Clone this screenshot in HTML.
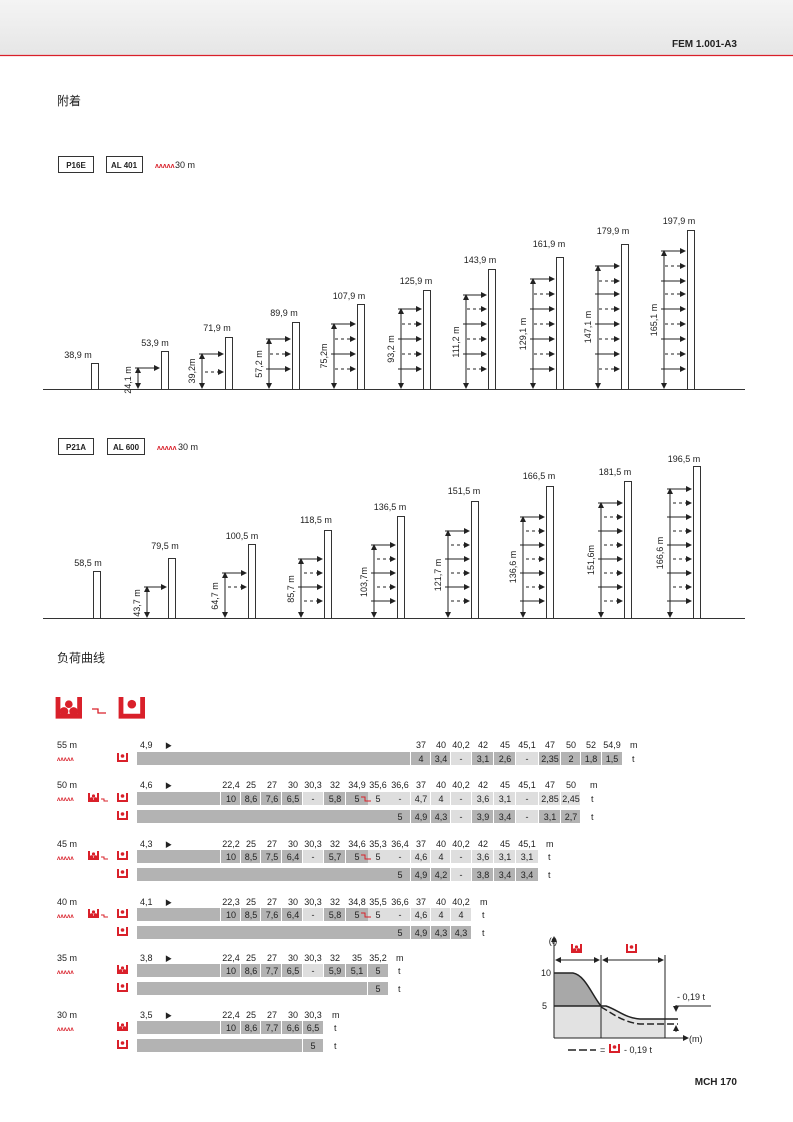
<!DOCTYPE html>
<html><head><meta charset="utf-8"><style>
body{margin:0;width:793px;height:1122px;background:#fff;overflow:hidden}
svg{display:block}
text{font-family:"Liberation Sans","Noto Sans CJK SC",sans-serif;fill:#222}
.s{font-size:9px}
.c{text-anchor:middle}
.dk{fill:#b3b3b3}.lt{fill:#dedede}
.ar path{marker-end:url(#ah)}
.vr path{marker-end:url(#ah);marker-start:url(#ah2)}
</style></head><body>
<svg width="793" height="1122" viewBox="0 0 793 1122">
<defs>
<linearGradient id="hg" x1="0" y1="0" x2="0" y2="1"><stop offset="0" stop-color="#f4f4f4"/><stop offset="1" stop-color="#e6e6e6"/></linearGradient>
<marker id="ah" markerWidth="6" markerHeight="6" refX="5" refY="3" orient="auto" markerUnits="userSpaceOnUse"><path d="M0,0L6,3L0,6z" fill="#222"/></marker>
<marker id="ah2" markerWidth="6" markerHeight="6" refX="5" refY="3" orient="auto-start-reverse" markerUnits="userSpaceOnUse"><path d="M0,0L6,3L0,6z" fill="#222"/></marker>
<g id="ic"><path d="M0,0v8h9v-8" fill="none" stroke="#d9202a" stroke-width="2"/><circle cx="4.5" cy="3" r="1.8" fill="#d9202a"/></g>
<g id="ic2"><path d="M0,0v8h9v-8" fill="none" stroke="#d9202a" stroke-width="2"/><circle cx="2.5" cy="6" r="1.8" fill="#d9202a"/><circle cx="6.5" cy="6" r="1.8" fill="#d9202a"/><circle cx="4.5" cy="3" r="1.6" fill="#d9202a"/></g>
</defs>
<rect x="0" y="0" width="793" height="55" fill="url(#hg)"/>
<line x1="0" y1="55.5" x2="793" y2="55.5" stroke="#d9202a" stroke-width="1.2"/>
<text x="737" y="47" style="font-size:10px;font-weight:bold;text-anchor:end">FEM 1.001-A3</text>
<text x="57" y="105" style="font-size:12px">附着</text>

<!-- chart 1 header -->
<rect x="58.5" y="156.5" width="35" height="16" fill="none" stroke="#333"/><text x="76" y="168" class="c" style="font-weight:bold;font-size:8px">P16E</text>
<rect x="106.5" y="156.5" width="36" height="16" fill="none" stroke="#333"/><text x="124" y="168" class="c" style="font-weight:bold;font-size:8px">AL 401</text>
<text x="155" y="168" style="font-size:7px;fill:#d9202a;font-weight:bold">ʌʌʌʌʌ</text><text x="175" y="168" class="s">30 m</text>
<line x1="43" y1="389.5" x2="745" y2="389.5" stroke="#333"/>
<g fill="#fff" stroke="#333">
<rect x="91.5" y="363.5" width="7" height="26"/><rect x="161.5" y="351.5" width="7" height="38"/><rect x="225.5" y="337.5" width="7" height="52"/><rect x="292.5" y="322.5" width="7" height="67"/><rect x="357.5" y="304.5" width="7" height="85"/><rect x="423.5" y="290.5" width="7" height="99"/><rect x="488.5" y="269.5" width="7" height="120"/><rect x="556.5" y="257.5" width="7" height="132"/><rect x="621.5" y="244.5" width="7" height="145"/><rect x="687.5" y="230.5" width="7" height="159"/>
</g>
<text x="78" y="358" class="s c">38,9 m</text><text x="155" y="346" class="s c">53,9 m</text><text x="217" y="331" class="s c">71,9 m</text><text x="284" y="316" class="s c">89,9 m</text><text x="349" y="299" class="s c">107,9 m</text><text x="416" y="284" class="s c">125,9 m</text><text x="480" y="263" class="s c">143,9 m</text><text x="549" y="247" class="s c">161,9 m</text><text x="613" y="234" class="s c">179,9 m</text><text x="679" y="224" class="s c">197,9 m</text>
<g stroke="#222" fill="none" class="vr">
<path d="M138,388V368"/><path d="M202,388V354"/><path d="M269,388V339"/><path d="M334,388V324"/><path d="M401,388V309"/><path d="M466,388V295"/><path d="M533,388V279"/><path d="M598,388V266"/><path d="M664,388V251"/>
</g>
<g stroke="#222" fill="none" class="ar">
<path d="M135,368H159"/><path d="M199,354H223"/><path d="M266,339H290"/><path d="M266,369H290"/><path d="M331,324H355"/><path d="M331,354H355"/><path d="M398,309H421"/><path d="M398,339H421"/><path d="M398,369H421"/><path d="M463,295H486"/><path d="M463,324H486"/><path d="M463,354H486"/><path d="M530,279H554"/><path d="M530,309H554"/><path d="M530,339H554"/><path d="M530,369H554"/><path d="M595,266H619"/><path d="M595,294H619"/><path d="M595,324H619"/><path d="M595,354H619"/><path d="M661,251H685"/><path d="M661,281H685"/><path d="M661,309H685"/><path d="M661,339H685"/><path d="M661,369H685"/>
</g>
<g stroke="#222" fill="none" stroke-dasharray="3,3" class="ar">
<path d="M205,372H223"/><path d="M270,354H290"/><path d="M335,339H355"/><path d="M335,369H355"/><path d="M402,324H421"/><path d="M402,354H421"/><path d="M467,309H486"/><path d="M467,339H486"/><path d="M467,369H486"/><path d="M534,294H554"/><path d="M534,324H554"/><path d="M534,354H554"/><path d="M599,281H619"/><path d="M599,309H619"/><path d="M599,339H619"/><path d="M599,369H619"/><path d="M665,266H685"/><path d="M665,294H685"/><path d="M665,324H685"/><path d="M665,354H685"/>
</g>
<text transform="translate(131,380) rotate(-90)" class="s c">24,1 m</text><text transform="translate(195,371) rotate(-90)" class="s c">39,2m</text><text transform="translate(262,364) rotate(-90)" class="s c">57,2 m</text><text transform="translate(327,356) rotate(-90)" class="s c">75,2m</text><text transform="translate(394,349) rotate(-90)" class="s c">93,2 m</text><text transform="translate(459,342) rotate(-90)" class="s c">111,2 m</text><text transform="translate(526,334) rotate(-90)" class="s c">129,1 m</text><text transform="translate(591,327) rotate(-90)" class="s c">147,1 m</text><text transform="translate(657,320) rotate(-90)" class="s c">165,1 m</text>

<!-- chart 2 -->
<rect x="58.5" y="438.5" width="35" height="16" fill="none" stroke="#333"/><text x="76" y="450" class="c" style="font-weight:bold;font-size:8px">P21A</text>
<rect x="107.5" y="438.5" width="37" height="16" fill="none" stroke="#333"/><text x="126" y="450" class="c" style="font-weight:bold;font-size:8px">AL 600</text>
<text x="157" y="450" style="font-size:7px;fill:#d9202a;font-weight:bold">ʌʌʌʌʌ</text><text x="178" y="450" class="s">30 m</text>
<line x1="43" y1="618.5" x2="745" y2="618.5" stroke="#333"/>
<g fill="#fff" stroke="#333">
<rect x="93.5" y="571.5" width="7" height="47"/><rect x="168.5" y="558.5" width="7" height="60"/><rect x="248.5" y="544.5" width="7" height="74"/><rect x="324.5" y="530.5" width="7" height="88"/><rect x="397.5" y="516.5" width="7" height="102"/><rect x="471.5" y="501.5" width="7" height="117"/><rect x="546.5" y="486.5" width="7" height="132"/><rect x="624.5" y="481.5" width="7" height="137"/><rect x="693.5" y="466.5" width="7" height="152"/>
</g>
<text x="88" y="566" class="s c">58,5 m</text><text x="165" y="549" class="s c">79,5 m</text><text x="242" y="539" class="s c">100,5 m</text><text x="316" y="523" class="s c">118,5 m</text><text x="390" y="510" class="s c">136,5 m</text><text x="464" y="494" class="s c">151,5 m</text><text x="539" y="479" class="s c">166,5 m</text><text x="615" y="475" class="s c">181,5 m</text><text x="684" y="462" class="s c">196,5 m</text>
<g stroke="#222" fill="none" class="vr">
<path d="M147,617V587"/><path d="M225,617V573"/><path d="M301,617V559"/><path d="M374,617V545"/><path d="M448,617V531"/><path d="M523,617V517"/><path d="M601,617V503"/><path d="M670,617V489"/>
</g>
<g stroke="#222" fill="none" class="ar">
<path d="M144,587H166"/><path d="M222,573H246"/><path d="M298,559H322"/><path d="M298,587H322"/><path d="M371,545H395"/><path d="M371,573H395"/><path d="M371,601H395"/><path d="M445,531H469"/><path d="M445,559H469"/><path d="M445,587H469"/><path d="M520,517H544"/><path d="M520,545H544"/><path d="M520,573H544"/><path d="M520,601H544"/><path d="M598,503H622"/><path d="M598,531H622"/><path d="M598,559H622"/><path d="M598,587H622"/><path d="M667,489H691"/><path d="M667,517H691"/><path d="M667,545H691"/><path d="M667,573H691"/><path d="M667,601H691"/>
</g>
<g stroke="#222" fill="none" stroke-dasharray="3,3" class="ar">
<path d="M228,587H246"/><path d="M304,573H322"/><path d="M304,601H322"/><path d="M377,559H395"/><path d="M377,587H395"/><path d="M451,545H469"/><path d="M451,573H469"/><path d="M451,601H469"/><path d="M526,531H544"/><path d="M526,559H544"/><path d="M526,587H544"/><path d="M604,517H622"/><path d="M604,545H622"/><path d="M604,573H622"/><path d="M604,601H622"/><path d="M673,503H691"/><path d="M673,531H691"/><path d="M673,559H691"/><path d="M673,587H691"/>
</g>
<text transform="translate(140,603) rotate(-90)" class="s c">43,7 m</text><text transform="translate(218,596) rotate(-90)" class="s c">64,7 m</text><text transform="translate(294,589) rotate(-90)" class="s c">85,7 m</text><text transform="translate(367,582) rotate(-90)" class="s c">103,7m</text><text transform="translate(441,575) rotate(-90)" class="s c">121,7 m</text><text transform="translate(516,567) rotate(-90)" class="s c">136,6 m</text><text transform="translate(594,560) rotate(-90)" class="s c">151,6m</text><text transform="translate(663,553) rotate(-90)" class="s c">166,6 m</text>

<text x="57" y="662" style="font-size:12px">负荷曲线</text>
<use href="#ic2" transform="translate(58,697) scale(2.4)"/>
<path d="M92,709h6v4h8" fill="none" stroke="#d9202a" stroke-width="1.3"/>
<use href="#ic" transform="translate(121,697) scale(2.4)"/>

<!-- TABLES -->
<g class="s">
<!-- 55 m -->
<text x="57" y="748">55 m</text><text x="57" y="761" style="font-size:6px;fill:#d9202a;font-weight:bold">ʌʌʌʌʌ</text><use href="#ic" transform="translate(118,753)"/>
<text x="140" y="748">4,9</text><text x="165" y="748" style="font-size:7px">▶</text>
<text x="421" y="748" class="c">37</text><text x="441" y="748" class="c">40</text><text x="461" y="748" class="c">40,2</text><text x="483" y="748" class="c">42</text><text x="505" y="748" class="c">45</text><text x="527" y="748" class="c">45,1</text><text x="550" y="748" class="c">47</text><text x="571" y="748" class="c">50</text><text x="591" y="748" class="c">52</text><text x="612" y="748" class="c">54,9</text><text x="630" y="748">m</text>
<rect x="137" y="752" width="273" height="13" class="dk"/>
<rect x="411" y="752" width="19" height="13" class="dk"/><rect x="431" y="752" width="19" height="13" class="dk"/><rect x="451" y="752" width="20" height="13" class="lt"/><rect x="472" y="752" width="21" height="13" class="dk"/><rect x="494" y="752" width="21" height="13" class="dk"/><rect x="516" y="752" width="22" height="13" class="lt"/><rect x="539" y="752" width="21" height="13" class="dk"/><rect x="561" y="752" width="19" height="13" class="dk"/><rect x="581" y="752" width="20" height="13" class="dk"/><rect x="602" y="752" width="20" height="13" class="dk"/>
<text x="421" y="762" class="c">4</text><text x="441" y="762" class="c">3,4</text><text x="461" y="762" class="c">-</text><text x="483" y="762" class="c">3,1</text><text x="505" y="762" class="c">2,6</text><text x="527" y="762" class="c">-</text><text x="550" y="762" class="c">2,35</text><text x="571" y="762" class="c">2</text><text x="591" y="762" class="c">1,8</text><text x="612" y="762" class="c">1,5</text><text x="632" y="762">t</text>

<!-- 50 m -->
<text x="57" y="788">50 m</text><text x="57" y="801" style="font-size:6px;fill:#d9202a;font-weight:bold">ʌʌʌʌʌ</text><use href="#ic2" transform="translate(89,793)"/><path d="M101,799h3v2h4" stroke="#d9202a" fill="none"/><use href="#ic" transform="translate(118,793)"/><use href="#ic" transform="translate(118,811)"/>
<text x="140" y="788">4,6</text><text x="165" y="788" style="font-size:7px">▶</text>
<text x="231" y="788" class="c">22,4</text><text x="251" y="788" class="c">25</text><text x="272" y="788" class="c">27</text><text x="293" y="788" class="c">30</text><text x="313" y="788" class="c">30,3</text><text x="335" y="788" class="c">32</text><text x="357" y="788" class="c">34,9</text><text x="378" y="788" class="c">35,6</text><text x="400" y="788" class="c">36,6</text><text x="421" y="788" class="c">37</text><text x="441" y="788" class="c">40</text><text x="461" y="788" class="c">40,2</text><text x="483" y="788" class="c">42</text><text x="505" y="788" class="c">45</text><text x="527" y="788" class="c">45,1</text><text x="550" y="788" class="c">47</text><text x="571" y="788" class="c">50</text><text x="590" y="788">m</text>
<rect x="137" y="792" width="83" height="13" class="dk"/>
<rect x="221" y="792" width="19" height="13" class="dk"/><rect x="241" y="792" width="19" height="13" class="dk"/><rect x="261" y="792" width="20" height="13" class="dk"/><rect x="282" y="792" width="20" height="13" class="dk"/><rect x="303" y="792" width="20" height="13" class="lt"/><rect x="324" y="792" width="21" height="13" class="dk"/><rect x="346" y="792" width="22" height="13" class="dk"/><rect x="368" y="792" width="21" height="13" class="lt"/><rect x="389" y="792" width="21" height="13" class="lt"/><rect x="411" y="792" width="19" height="13" class="lt"/><rect x="431" y="792" width="19" height="13" class="lt"/><rect x="451" y="792" width="20" height="13" class="lt"/><rect x="472" y="792" width="21" height="13" class="lt"/><rect x="494" y="792" width="21" height="13" class="lt"/><rect x="516" y="792" width="22" height="13" class="lt"/><rect x="539" y="792" width="21" height="13" class="lt"/><rect x="561" y="792" width="19" height="13" class="lt"/>
<text x="231" y="802" class="c">10</text><text x="251" y="802" class="c">8,6</text><text x="272" y="802" class="c">7,6</text><text x="293" y="802" class="c">6,5</text><text x="313" y="802" class="c">-</text><text x="335" y="802" class="c">5,8</text><text x="357" y="802" class="c">5</text><path d="M361,797h4v4h6" stroke="#d9202a" fill="none"/><text x="378" y="802" class="c">5</text><text x="400" y="802" class="c">-</text><text x="421" y="802" class="c">4,7</text><text x="441" y="802" class="c">4</text><text x="461" y="802" class="c">-</text><text x="483" y="802" class="c">3,6</text><text x="505" y="802" class="c">3,1</text><text x="527" y="802" class="c">-</text><text x="550" y="802" class="c">2,85</text><text x="571" y="802" class="c">2,45</text><text x="591" y="802">t</text>
<rect x="137" y="810" width="252" height="13" class="dk"/>
<rect x="389" y="810" width="21" height="13" class="dk"/><rect x="411" y="810" width="19" height="13" class="dk"/><rect x="431" y="810" width="19" height="13" class="dk"/><rect x="451" y="810" width="20" height="13" class="lt"/><rect x="472" y="810" width="21" height="13" class="dk"/><rect x="494" y="810" width="21" height="13" class="dk"/><rect x="516" y="810" width="22" height="13" class="lt"/><rect x="539" y="810" width="21" height="13" class="dk"/><rect x="561" y="810" width="19" height="13" class="dk"/>
<text x="400" y="820" class="c">5</text><text x="421" y="820" class="c">4,9</text><text x="441" y="820" class="c">4,3</text><text x="461" y="820" class="c">-</text><text x="483" y="820" class="c">3,9</text><text x="505" y="820" class="c">3,4</text><text x="527" y="820" class="c">-</text><text x="550" y="820" class="c">3,1</text><text x="571" y="820" class="c">2,7</text><text x="591" y="820">t</text>

<!-- 45 m -->
<text x="57" y="847">45 m</text><text x="57" y="860" style="font-size:6px;fill:#d9202a;font-weight:bold">ʌʌʌʌʌ</text><use href="#ic2" transform="translate(89,851)"/><path d="M101,857h3v2h4" stroke="#d9202a" fill="none"/><use href="#ic" transform="translate(118,851)"/><use href="#ic" transform="translate(118,869)"/>
<text x="140" y="847">4,3</text><text x="165" y="847" style="font-size:7px">▶</text>
<text x="231" y="847" class="c">22,2</text><text x="251" y="847" class="c">25</text><text x="272" y="847" class="c">27</text><text x="293" y="847" class="c">30</text><text x="313" y="847" class="c">30,3</text><text x="335" y="847" class="c">32</text><text x="357" y="847" class="c">34,6</text><text x="378" y="847" class="c">35,3</text><text x="400" y="847" class="c">36,4</text><text x="421" y="847" class="c">37</text><text x="441" y="847" class="c">40</text><text x="461" y="847" class="c">40,2</text><text x="483" y="847" class="c">42</text><text x="505" y="847" class="c">45</text><text x="527" y="847" class="c">45,1</text><text x="546" y="847">m</text>
<rect x="137" y="850" width="83" height="13" class="dk"/>
<rect x="221" y="850" width="19" height="13" class="dk"/><rect x="241" y="850" width="19" height="13" class="dk"/><rect x="261" y="850" width="20" height="13" class="dk"/><rect x="282" y="850" width="20" height="13" class="dk"/><rect x="303" y="850" width="20" height="13" class="lt"/><rect x="324" y="850" width="21" height="13" class="dk"/><rect x="346" y="850" width="22" height="13" class="dk"/><rect x="368" y="850" width="21" height="13" class="lt"/><rect x="389" y="850" width="21" height="13" class="lt"/><rect x="411" y="850" width="19" height="13" class="lt"/><rect x="431" y="850" width="19" height="13" class="lt"/><rect x="451" y="850" width="20" height="13" class="lt"/><rect x="472" y="850" width="21" height="13" class="lt"/><rect x="494" y="850" width="21" height="13" class="lt"/><rect x="516" y="850" width="22" height="13" class="lt"/>
<text x="231" y="860" class="c">10</text><text x="251" y="860" class="c">8,5</text><text x="272" y="860" class="c">7,5</text><text x="293" y="860" class="c">6,4</text><text x="313" y="860" class="c">-</text><text x="335" y="860" class="c">5,7</text><text x="357" y="860" class="c">5</text><path d="M361,855h4v4h6" stroke="#d9202a" fill="none"/><text x="378" y="860" class="c">5</text><text x="400" y="860" class="c">-</text><text x="421" y="860" class="c">4,6</text><text x="441" y="860" class="c">4</text><text x="461" y="860" class="c">-</text><text x="483" y="860" class="c">3,6</text><text x="505" y="860" class="c">3,1</text><text x="527" y="860" class="c">3,1</text><text x="548" y="860">t</text>
<rect x="137" y="868" width="252" height="13" class="dk"/>
<rect x="389" y="868" width="21" height="13" class="dk"/><rect x="411" y="868" width="19" height="13" class="dk"/><rect x="431" y="868" width="19" height="13" class="dk"/><rect x="451" y="868" width="20" height="13" class="lt"/><rect x="472" y="868" width="21" height="13" class="dk"/><rect x="494" y="868" width="21" height="13" class="dk"/><rect x="516" y="868" width="22" height="13" class="dk"/>
<text x="400" y="878" class="c">5</text><text x="421" y="878" class="c">4,9</text><text x="441" y="878" class="c">4,2</text><text x="461" y="878" class="c">-</text><text x="483" y="878" class="c">3,8</text><text x="505" y="878" class="c">3,4</text><text x="527" y="878" class="c">3,4</text><text x="548" y="878">t</text>

<!-- 40 m -->
<text x="57" y="905">40 m</text><text x="57" y="918" style="font-size:6px;fill:#d9202a;font-weight:bold">ʌʌʌʌʌ</text><use href="#ic2" transform="translate(89,909)"/><path d="M101,915h3v2h4" stroke="#d9202a" fill="none"/><use href="#ic" transform="translate(118,909)"/><use href="#ic" transform="translate(118,927)"/>
<text x="140" y="905">4,1</text><text x="165" y="905" style="font-size:7px">▶</text>
<text x="231" y="905" class="c">22,3</text><text x="251" y="905" class="c">25</text><text x="272" y="905" class="c">27</text><text x="293" y="905" class="c">30</text><text x="313" y="905" class="c">30,3</text><text x="335" y="905" class="c">32</text><text x="357" y="905" class="c">34,8</text><text x="378" y="905" class="c">35,5</text><text x="400" y="905" class="c">36,6</text><text x="421" y="905" class="c">37</text><text x="441" y="905" class="c">40</text><text x="461" y="905" class="c">40,2</text><text x="480" y="905">m</text>
<rect x="137" y="908" width="83" height="13" class="dk"/>
<rect x="221" y="908" width="19" height="13" class="dk"/><rect x="241" y="908" width="19" height="13" class="dk"/><rect x="261" y="908" width="20" height="13" class="dk"/><rect x="282" y="908" width="20" height="13" class="dk"/><rect x="303" y="908" width="20" height="13" class="lt"/><rect x="324" y="908" width="21" height="13" class="dk"/><rect x="346" y="908" width="22" height="13" class="dk"/><rect x="368" y="908" width="21" height="13" class="lt"/><rect x="389" y="908" width="21" height="13" class="lt"/><rect x="411" y="908" width="19" height="13" class="lt"/><rect x="431" y="908" width="19" height="13" class="lt"/><rect x="451" y="908" width="20" height="13" class="lt"/>
<text x="231" y="918" class="c">10</text><text x="251" y="918" class="c">8,5</text><text x="272" y="918" class="c">7,6</text><text x="293" y="918" class="c">6,4</text><text x="313" y="918" class="c">-</text><text x="335" y="918" class="c">5,8</text><text x="357" y="918" class="c">5</text><path d="M361,913h4v4h6" stroke="#d9202a" fill="none"/><text x="378" y="918" class="c">5</text><text x="400" y="918" class="c">-</text><text x="421" y="918" class="c">4,6</text><text x="441" y="918" class="c">4</text><text x="461" y="918" class="c">4</text><text x="482" y="918">t</text>
<rect x="137" y="926" width="252" height="13" class="dk"/>
<rect x="389" y="926" width="21" height="13" class="dk"/><rect x="411" y="926" width="19" height="13" class="dk"/><rect x="431" y="926" width="19" height="13" class="dk"/><rect x="451" y="926" width="20" height="13" class="dk"/>
<text x="400" y="936" class="c">5</text><text x="421" y="936" class="c">4,9</text><text x="441" y="936" class="c">4,3</text><text x="461" y="936" class="c">4,3</text><text x="482" y="936">t</text>

<!-- 35 m -->
<text x="57" y="961">35 m</text><text x="57" y="974" style="font-size:6px;fill:#d9202a;font-weight:bold">ʌʌʌʌʌ</text><use href="#ic2" transform="translate(118,965)"/><use href="#ic" transform="translate(118,983)"/>
<text x="140" y="961">3,8</text><text x="165" y="961" style="font-size:7px">▶</text>
<text x="231" y="961" class="c">22,4</text><text x="251" y="961" class="c">25</text><text x="272" y="961" class="c">27</text><text x="293" y="961" class="c">30</text><text x="313" y="961" class="c">30,3</text><text x="335" y="961" class="c">32</text><text x="357" y="961" class="c">35</text><text x="378" y="961" class="c">35,2</text><text x="396" y="961">m</text>
<rect x="137" y="964" width="83" height="13" class="dk"/>
<rect x="221" y="964" width="19" height="13" class="dk"/><rect x="241" y="964" width="19" height="13" class="dk"/><rect x="261" y="964" width="20" height="13" class="dk"/><rect x="282" y="964" width="20" height="13" class="dk"/><rect x="303" y="964" width="20" height="13" class="lt"/><rect x="324" y="964" width="21" height="13" class="dk"/><rect x="346" y="964" width="21" height="13" class="dk"/><rect x="368" y="964" width="20" height="13" class="dk"/>
<text x="231" y="974" class="c">10</text><text x="251" y="974" class="c">8,6</text><text x="272" y="974" class="c">7,7</text><text x="293" y="974" class="c">6,5</text><text x="313" y="974" class="c">-</text><text x="335" y="974" class="c">5,9</text><text x="357" y="974" class="c">5,1</text><text x="378" y="974" class="c">5</text><text x="398" y="974">t</text>
<rect x="137" y="982" width="230" height="13" class="dk"/><rect x="368" y="982" width="20" height="13" class="dk"/><text x="378" y="992" class="c">5</text><text x="398" y="992">t</text>

<!-- 30 m -->
<text x="57" y="1018">30 m</text><text x="57" y="1031" style="font-size:6px;fill:#d9202a;font-weight:bold">ʌʌʌʌʌ</text><use href="#ic2" transform="translate(118,1022)"/><use href="#ic" transform="translate(118,1040)"/>
<text x="140" y="1018">3,5</text><text x="165" y="1018" style="font-size:7px">▶</text>
<text x="231" y="1018" class="c">22,4</text><text x="251" y="1018" class="c">25</text><text x="272" y="1018" class="c">27</text><text x="293" y="1018" class="c">30</text><text x="313" y="1018" class="c">30,3</text><text x="332" y="1018">m</text>
<rect x="137" y="1021" width="83" height="13" class="dk"/>
<rect x="221" y="1021" width="19" height="13" class="dk"/><rect x="241" y="1021" width="19" height="13" class="dk"/><rect x="261" y="1021" width="20" height="13" class="dk"/><rect x="282" y="1021" width="20" height="13" class="dk"/><rect x="303" y="1021" width="20" height="13" class="dk"/>
<text x="231" y="1031" class="c">10</text><text x="251" y="1031" class="c">8,6</text><text x="272" y="1031" class="c">7,7</text><text x="293" y="1031" class="c">6,6</text><text x="313" y="1031" class="c">6,5</text><text x="334" y="1031">t</text>
<rect x="137" y="1039" width="165" height="13" class="dk"/><rect x="303" y="1039" width="20" height="13" class="dk"/><text x="313" y="1049" class="c">5</text><text x="334" y="1049">t</text>
</g>

<!-- small graph -->
<path d="M554,1006V973H573C585,975 592,995 601,1006Z" fill="#a8a8a8"/>
<path d="M554,1038V1006H605C615,1010 625,1018 640,1019H665V1038Z" fill="#e2e2e2"/>
<path d="M554,973H573C585,975 592,995 601,1006" stroke="#222" fill="none" stroke-width="1.5"/>
<path d="M554,1006H606C618,1010 625,1018 640,1019H678" stroke="#222" fill="none" stroke-width="1.5"/>
<path d="M601,1007C612,1013 622,1022 640,1024H678" stroke="#222" fill="none" stroke-width="1.5" stroke-dasharray="7,3"/>
<g stroke="#222" fill="none" class="ar">
<path d="M554,1038V937"/><path d="M554,1038H688"/>
<path d="M578,960H556"/><path d="M578,960H599"/><path d="M633,960H603"/><path d="M633,960H663"/>
<path d="M676,1005V1011"/><path d="M676,1032V1026"/>
</g>
<path d="M601,955V1038M665,955V1038M676,1006H711" stroke="#222" fill="none"/>
<text x="553" y="944" class="s c">(t)</text>
<text x="541" y="976" class="s">10</text><text x="542" y="1009" class="s">5</text>
<text x="689" y="1042" class="s">(m)</text>
<text x="677" y="1000" class="s">- 0,19 t</text>
<use href="#ic2" transform="translate(572,944)"/><use href="#ic" transform="translate(627,944)"/>
<path d="M568,1050H596" stroke="#222" stroke-width="1.5" stroke-dasharray="8,3"/>
<text x="600" y="1053" class="s">=</text><use href="#ic" transform="translate(610,1044)"/><text x="624" y="1053" class="s">- 0,19 t</text>

<text x="737" y="1085" style="font-size:10px;font-weight:bold;text-anchor:end">MCH 170</text>
</svg>
</body></html>
